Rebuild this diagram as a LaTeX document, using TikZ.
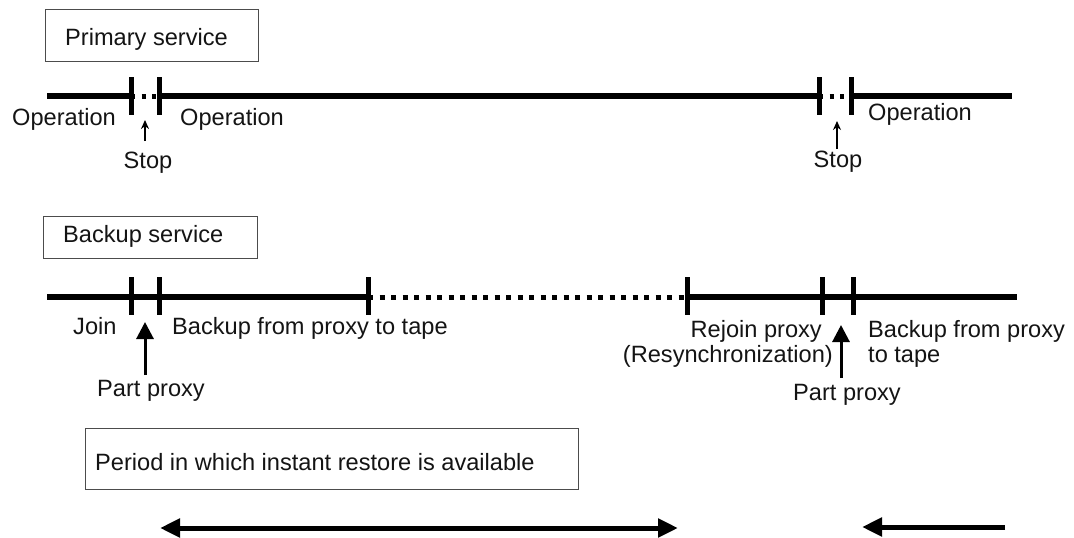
\documentclass[tikz,border=0pt]{standalone}
\usepackage{fontspec}
\setmainfont{Liberation Sans}
\usetikzlibrary{arrows.meta}
\begin{document}
\begin{tikzpicture}[x=1pt,y=-1pt,
  lbl/.style={inner sep=0pt,font=\fontsize{23.6}{28}\selectfont,text=black!92},
  tl/.style={line width=5.5pt},
  tickmark/.style={line width=5pt},
  dotline/.style={line width=5pt,dash pattern=on 4pt off 6.5pt},
  dotlineb/.style={line width=5pt,dash pattern=on 5pt off 6.5pt},
  boxnode/.style={draw=black!70,line width=1.4pt,inner sep=0pt,anchor=north west},
  thinarrow/.style={line width=1.6pt,-{Stealth[length=9pt,width=8pt]}},
  midarrow/.style={line width=3pt,-{Triangle[length=17pt,width=17pt]}},
  bigarrow/.style={line width=5pt,-{Triangle[length=20pt,width=18pt]}},
  bigdarrow/.style={line width=5pt,{Triangle[length=20pt,width=18pt]}-{Triangle[length=20pt,width=18pt]}}]
\useasboundingbox (0,0) rectangle (1074,538);
\fill[white] (0,0) rectangle (1074,538);

% ---------- Primary service ----------
\node[boxnode,minimum width=213pt,minimum height=52pt] (pbox) at (45,9) {};
\node[lbl,anchor=base west] (ptitle) at (65,45) {Primary service};

\coordinate (p0) at (47,96);
\coordinate (p1) at (131,96);
\coordinate (p2) at (159,96);
\coordinate (p3) at (819,96);
\coordinate (p4) at (851,96);
\coordinate (p5) at (1012,96);
\draw[tl] (p0) -- (p1);
\draw[tl] (p2) -- (p3);
\draw[tl] (p4) -- (p5);
\draw[dotline] (p1) -- (p2);
\draw[dotline] (p3) -- (p4);
\foreach \x in {131,159,819,851}{
  \draw[tickmark] (\x,77) -- (\x,115);
}

\node[lbl,anchor=base west] (op1) at (12,125) {Operation};
\node[lbl,anchor=base west] (op2) at (180,125) {Operation};
\node[lbl,anchor=base west] (op3) at (868,120) {Operation};
\node[lbl,anchor=base] (stop1) at (148,168) {Stop};
\node[lbl,anchor=base] (stop2) at (838,167) {Stop};
\coordinate (s1b) at (145,141);
\coordinate (s1t) at (145,120);
\coordinate (s2b) at (837,149);
\coordinate (s2t) at (837,121);
\draw[thinarrow] (s1b) -- (s1t);
\draw[thinarrow] (s2b) -- (s2t);

% ---------- Backup service ----------
\node[boxnode,minimum width=214pt,minimum height=42pt] (bbox) at (43,216) {};
\node[lbl,anchor=base west] (btitle) at (63,242) {Backup service};

\coordinate (b0) at (47,297);
\coordinate (b1) at (368,297);
\coordinate (b2) at (687,297);
\coordinate (b3) at (1017,297);
\draw[tl] (b0) -- (b1);
\draw[dotlineb] (b1) -- (b2);
\draw[tl] (b2) -- (b3);
\foreach \x in {131,159,368,687,822,853}{
  \draw[tickmark] (\x,277) -- (\x,315);
}

\node[lbl,anchor=base west] (join) at (73,334) {Join};
\node[lbl,anchor=base west] (bft1) at (172,334) {Backup from proxy to tape};
\node[lbl,anchor=base west] (pp1) at (97,396) {Part proxy};
\coordinate (pp1b) at (145,375);
\coordinate (pp1t) at (145,322);
\draw[midarrow] (pp1b) -- (pp1t);

\node[lbl,anchor=base east] (rejoin) at (822,337) {Rejoin proxy};
\node[lbl,anchor=base east] (resync) at (833,362) {(Resynchronization)};
\node[lbl,anchor=base west] (bft2) at (868,337) {Backup from proxy};
\node[lbl,anchor=base west] (bft3) at (868,362) {to tape};
\node[lbl,anchor=base west] (pp2) at (793,400) {Part proxy};
\coordinate (pp2b) at (841,378);
\coordinate (pp2t) at (841,325);
\draw[midarrow] (pp2b) -- (pp2t);

% ---------- Period ----------
\node[boxnode,minimum width=493pt,minimum height=61pt] (perbox) at (85,428) {};
\node[lbl,anchor=base west] (pertext) at (95,470) {Period in which instant restore is available};

\coordinate (a1) at (160,528);
\coordinate (a2) at (678,528);
\coordinate (a3) at (1005,527);
\coordinate (a4) at (862,527);
\draw[bigdarrow] (a1) -- (a2);
\draw[bigarrow] (a3) -- (a4);
\end{tikzpicture}
\end{document}
